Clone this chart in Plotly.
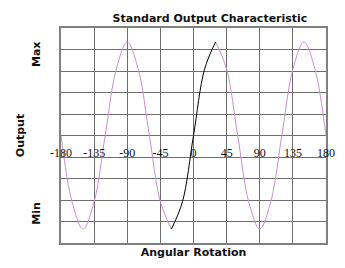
import plotly.graph_objects as go

# Angular rotation (degrees) and output readings
angles = [-180, -165, -150, -135, -120, -105, -90, -75, -60, -45, -30, -15,
          0, 15, 30, 45, 60, 75, 90, 105, 120, 135, 150, 165, 180]
output = [0, -3.08, -4.35, -3.08, 0, 3.08, 4.35, 3.08, 0, -3.08, -4.35, -3.08,
          0, 3.08, 4.35, 3.08, 0, -3.08, -4.35, -3.08, 0, 3.08, 4.35, 3.08, 0]

# highlighted segment of the characteristic
black_from, black_to = -30, 30

x_ticks = [-180, -135, -90, -45, 0, 45, 90, 135, 180]
y_label_vals = [3.7, -3.7]
y_label_text = ["<b>Max</b>", "<b>Min</b>"]

pink = "#C890CC"
grid = "#6E6E6E"

left_x = [a for a in angles if a <= black_from]
left_y = [v for a, v in zip(angles, output) if a <= black_from]
mid_x = [a for a in angles if black_from <= a <= black_to]
mid_y = [v for a, v in zip(angles, output) if black_from <= a <= black_to]
right_x = [a for a in angles if a >= black_to]
right_y = [v for a, v in zip(angles, output) if a >= black_to]

fig = go.Figure()
for xs, ys, c in [(left_x, left_y, pink), (right_x, right_y, pink), (mid_x, mid_y, "black")]:
    fig.add_trace(go.Scatter(x=xs, y=ys, mode="lines",
                             line=dict(color=c, width=1, shape="spline", smoothing=1.0),
                             hoverinfo="skip", showlegend=False))
# invisible helper to activate the label axes
fig.add_trace(go.Scatter(x=[0], y=[0], xaxis="x2", yaxis="y2", mode="markers",
                         marker=dict(opacity=0), showlegend=False, hoverinfo="skip"))

font_b = dict(family="DejaVu Sans", size=11, color="#111")

fig.update_layout(
    width=345, height=268,
    margin=dict(l=61, r=19, t=28, b=25, autoexpand=False),
    paper_bgcolor="white", plot_bgcolor="white",
    title=dict(text="<b>Standard Output Characteristic</b>", x=194/345, xanchor="center",
               y=1 - 18/268, yanchor="middle", xref="paper", yref="container",
               font=font_b),
    xaxis=dict(range=[-180, 180], tickvals=x_ticks, showticklabels=False, automargin=False,
               showgrid=True, gridcolor=grid, gridwidth=1, zeroline=False,
               showline=True, linecolor="#808080", linewidth=2, mirror=True,
               title=dict(text="<b>Angular Rotation</b>", standoff=4, font=font_b)),
    yaxis=dict(range=[-5, 5], dtick=1, showticklabels=False, automargin=False,
               showgrid=True, gridcolor=grid, gridwidth=1, zeroline=False,
               showline=True, linecolor="#808080", linewidth=2, mirror=True),
    xaxis2=dict(range=[-180, 180], overlaying="x", anchor="free", position=0.5,
                automargin=False,
                tickvals=x_ticks, ticktext=[str(t) for t in x_ticks],
                showgrid=False, zeroline=False, showline=False,
                ticks="outside", ticklen=6, tickcolor="rgba(0,0,0,0)",
                tickfont=dict(family="Liberation Serif", size=12, color="#111")),
    yaxis2=dict(range=[-5, 5], overlaying="y", anchor="x", side="left", automargin=False,
                tickvals=y_label_vals, ticktext=y_label_text, tickangle=-90,
                showgrid=False, zeroline=False, showline=False,
                ticks="outside", ticklen=16, tickcolor="rgba(0,0,0,0)",
                tickfont=font_b,
                title=dict(text="<b>Output</b>", standoff=2, font=font_b)),
)

fig.write_html("out.html", config={"displayModeBar": False},
               post_script="document.body.style.margin='0';")
